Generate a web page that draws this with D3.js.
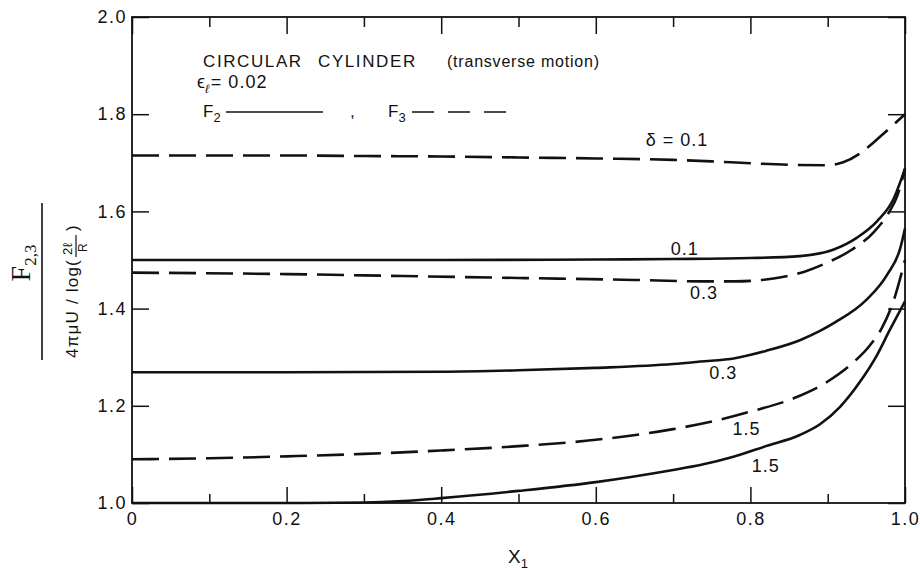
<!DOCTYPE html>
<html><head><meta charset="utf-8">
<script src="https://cdn.jsdelivr.net/npm/d3@7/dist/d3.min.js"></script>
<style>body{margin:0;background:#fff}svg{display:block}text{font-family:"Liberation Sans",Arial,sans-serif;fill:#111}</style>
</head><body><svg id="c" width="920" height="570"></svg>
<script>
// ---- data ----
const xTicks = [0, 0.2, 0.4, 0.6, 0.8, 1.0];
const xTickLabels = ["0", "0.2", "0.4", "0.6", "0.8", "1.0"];
const xMinorTicks = [0.1, 0.3, 0.5, 0.7, 0.9];
const yTicks = [1.0, 1.2, 1.4, 1.6, 1.8, 2.0];
const yTickLabels = ["1.0", "1.2", "1.4", "1.6", "1.8", "2.0"];

// F3, delta = 0.1 (dashed)
const f3d01X = [0, 0.1, 0.2, 0.3, 0.4, 0.5, 0.6, 0.7, 0.75, 0.8, 0.85, 0.9, 0.92, 0.946, 0.96, 0.98, 1.0];
const f3d01Y = [1.715, 1.715, 1.715, 1.714, 1.713, 1.711, 1.709, 1.706, 1.703, 1.699, 1.696, 1.695, 1.701, 1.724, 1.743, 1.771, 1.800];
// F2, delta = 0.1 (solid)
const f2d01X = [0, 0.2, 0.4, 0.6, 0.7, 0.8, 0.864, 0.907, 0.938, 0.964, 0.985, 1.0];
const f2d01Y = [1.500, 1.500, 1.500, 1.501, 1.502, 1.504, 1.508, 1.521, 1.546, 1.580, 1.625, 1.688];
// F3, delta = 0.3 (dashed)
const f3d03X = [0, 0.2, 0.35, 0.5, 0.65, 0.735, 0.78, 0.83, 0.87, 0.9, 0.93, 0.96, 0.98, 0.99, 1.0];
const f3d03Y = [1.474, 1.471, 1.467, 1.463, 1.459, 1.456, 1.456, 1.462, 1.476, 1.495, 1.520, 1.558, 1.600, 1.632, 1.688];
// F2, delta = 0.3 (solid)
const f2d03X = [0, 0.2, 0.4, 0.5, 0.6, 0.7, 0.735, 0.78, 0.82, 0.864, 0.89, 0.91, 0.95, 0.977, 0.994, 1.0];
const f2d03Y = [1.269, 1.269, 1.270, 1.273, 1.278, 1.286, 1.291, 1.298, 1.313, 1.335, 1.354, 1.372, 1.418, 1.470, 1.525, 1.565];
// F3, delta = 1.5 (dashed)
const f3d15X = [0, 0.1, 0.2, 0.3, 0.4, 0.5, 0.6, 0.7, 0.757, 0.8, 0.86, 0.9, 0.93, 0.955, 0.97, 0.985, 1.0];
const f3d15Y = [1.090, 1.092, 1.096, 1.101, 1.108, 1.117, 1.130, 1.152, 1.170, 1.188, 1.218, 1.250, 1.285, 1.325, 1.360, 1.415, 1.500];
// F2, delta = 1.5 (solid)
const f2d15X = [0, 0.2, 0.3, 0.35, 0.4, 0.5, 0.6, 0.7, 0.735, 0.778, 0.82, 0.864, 0.89, 0.916, 0.942, 0.964, 0.98, 1.0];
const f2d15Y = [1.000, 1.000, 1.001, 1.004, 1.010, 1.025, 1.043, 1.068, 1.078, 1.095, 1.117, 1.140, 1.162, 1.198, 1.250, 1.305, 1.355, 1.415];

const series = [
  {x: f3d01X, y: f3d01Y, dashed: true},
  {x: f2d01X, y: f2d01Y, dashed: false},
  {x: f3d03X, y: f3d03Y, dashed: true},
  {x: f2d03X, y: f2d03Y, dashed: false},
  {x: f3d15X, y: f3d15Y, dashed: true},
  {x: f2d15X, y: f2d15Y, dashed: false}
];
// curve labels: [text, x value, y value]
const curveLabels = [
  ["δ = 0.1", 0.705, 1.734],
  ["0.1", 0.715, 1.510],
  ["0.3", 0.740, 1.420],
  ["0.3", 0.765, 1.255],
  ["1.5", 0.795, 1.140],
  ["1.5", 0.82, 1.063]
];

// ---- drawing ----
const svg = d3.select("#c");
const L = 132, R = 905, T = 17, B = 503;
const x = d3.scaleLinear().domain([0, 1]).range([L, R]);
const y = d3.scaleLinear().domain([1, 2]).range([B, T]);
const ink = "#111";

function styleAxis(g) {
  g.select(".domain").remove();
  g.selectAll(".tick line").attr("stroke", ink).attr("stroke-width", 1.5);
  g.selectAll(".tick text").attr("fill", ink).style("font-family", '"Liberation Sans",Arial,sans-serif')
   .style("font-size", "18px").style("letter-spacing", "1.5px");
}
// bottom
svg.append("g").attr("transform", `translate(0,${B})`)
  .call(d3.axisBottom(x).tickValues(xTicks).tickSize(-16).tickPadding(9)
    .tickFormat((d, i) => xTickLabels[i])).call(styleAxis);
svg.append("g").attr("transform", `translate(0,${B})`)
  .call(d3.axisBottom(x).tickValues(xMinorTicks).tickSize(-9).tickFormat("")).call(styleAxis);
// top
svg.append("g").attr("transform", `translate(0,${T})`)
  .call(d3.axisTop(x).tickValues(xTicks).tickSize(-17).tickFormat("")).call(styleAxis);
svg.append("g").attr("transform", `translate(0,${T})`)
  .call(d3.axisTop(x).tickValues(xMinorTicks).tickSize(-10).tickFormat("")).call(styleAxis);
// left
svg.append("g").attr("transform", `translate(${L},0)`)
  .call(d3.axisLeft(y).tickValues(yTicks).tickSize(-17).tickPadding(5)
    .tickFormat((d, i) => yTickLabels[i])).call(styleAxis);
// right
svg.append("g").attr("transform", `translate(${R},0)`)
  .call(d3.axisRight(y).tickValues(yTicks).tickSize(-17).tickFormat("")).call(styleAxis);

// frame
svg.append("rect").attr("x", L).attr("y", T).attr("width", R - L).attr("height", B - T)
  .attr("fill", "none").attr("stroke", ink).attr("stroke-width", 1.8);

// curves
const line = d3.line().x(d => x(d[0])).y(d => y(d[1])).curve(d3.curveMonotoneX);
series.forEach(s => {
  const pts = s.x.map((v, i) => [v, s.y[i]]);
  svg.append("path").attr("d", line(pts)).attr("fill", "none").attr("stroke", ink)
    .attr("stroke-width", 2.6).attr("stroke-linecap", "butt")
    .attr("stroke-dasharray", s.dashed ? "27,10" : null);
});

// curve labels
curveLabels.forEach(l => {
  svg.append("text").attr("x", x(l[1])).attr("y", y(l[2])).attr("text-anchor", "middle")
    .style("font-size", "18px").style("letter-spacing", "1px").text(l[0]);
});

// annotation block
svg.append("text").attr("x", 203).attr("y", 67).style("font-size", "17px").style("letter-spacing", "1.6px")
  .text("CIRCULAR");
svg.append("text").attr("x", 318).attr("y", 67).style("font-size", "17px").style("letter-spacing", "1.6px")
  .text("CYLINDER");
svg.append("text").attr("x", 447).attr("y", 67).style("font-size", "16px")
  .attr("textLength", 152).attr("lengthAdjust", "spacing")
  .text("(transverse motion)");
const eps = svg.append("text").attr("x", 197).attr("y", 88).style("font-size", "18px");
eps.append("tspan").text("ϵ");
eps.append("tspan").attr("dy", 5).style("font-size", "12px").style("font-style", "italic").text("ℓ");
eps.append("tspan").attr("dy", -5).attr("dx", 2).style("letter-spacing", "1px").text("= 0.02");
const f2 = svg.append("text").attr("x", 203).attr("y", 117).style("font-size", "17px");
f2.append("tspan").text("F");
f2.append("tspan").attr("dy", 5).style("font-size", "13px").text("2");
svg.append("line").attr("x1", 226).attr("x2", 323).attr("y1", 112).attr("y2", 112)
  .attr("stroke", ink).attr("stroke-width", 1.6);
svg.append("text").attr("x", 350).attr("y", 117).style("font-size", "17px").text(",");
const f3 = svg.append("text").attr("x", 388).attr("y", 117).style("font-size", "17px");
f3.append("tspan").text("F");
f3.append("tspan").attr("dy", 5).style("font-size", "13px").text("3");
svg.append("line").attr("x1", 412).attr("x2", 520).attr("y1", 112).attr("y2", 112)
  .attr("stroke", ink).attr("stroke-width", 1.6).attr("stroke-dasharray", "22,14");

// x axis title
const xt = svg.append("text").attr("x", 518).attr("y", 563).attr("text-anchor", "middle").style("font-size", "19px");
xt.append("tspan").text("X");
xt.append("tspan").attr("dy", 5).style("font-size", "13px").text("1");

// y axis title (fraction, rotated)
svg.append("line").attr("x1", 42).attr("x2", 42).attr("y1", 203).attr("y2", 360)
  .attr("stroke", ink).attr("stroke-width", 1.6);
const num = svg.append("text").attr("transform", "translate(30,263) rotate(-90)").attr("text-anchor", "middle")
  .style("font-family", '"Liberation Serif","DejaVu Serif",serif').style("font-size", "28px");
num.append("tspan").text("F");
num.append("tspan").attr("dy", 6).style("font-size", "17px").text("2,3");
const den = svg.append("g").attr("transform", "translate(78,358) rotate(-90)");
den.append("text").attr("x", 0).attr("y", 0).style("font-size", "17px").style("letter-spacing", "1.2px")
  .text("4πμU / log(");
den.append("text").attr("x", 103).attr("y", -6).style("font-size", "13px").style("letter-spacing", "0.5px")
  .text("2ℓ");
den.append("line").attr("x1", 101).attr("x2", 123).attr("y1", -2).attr("y2", -2).attr("stroke", ink).attr("stroke-width", 1.2);
den.append("text").attr("x", 106).attr("y", 9).style("font-size", "12px").text("R");
den.append("text").attr("x", 127).attr("y", 0).style("font-size", "17px").text(")");
</script></body></html>
